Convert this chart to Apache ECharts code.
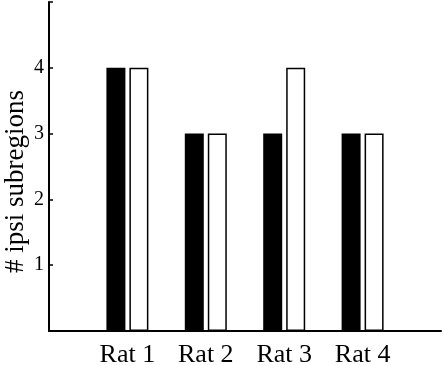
<!DOCTYPE html>
<html>
<head>
<meta charset="utf-8">
<script src="https://cdn.jsdelivr.net/npm/echarts@6/dist/echarts.min.js"></script>
<style>
  html, body { margin: 0; padding: 0; background: #fff; }
  #chart { width: 443px; height: 365px; }
</style>
</head>
<body>
<div id="chart"></div>
<script>
// values
const categories = ['Rat 1', 'Rat 2', 'Rat 3', 'Rat 4']
const blackValues = [4, 3, 3, 3]
const whiteValues = [4, 3, 4, 3]
const yTickLabels = ['1', '2', '3', '4']

// empty slot on each side so the rats sit at 1..4 on a 0..5 axis
const axisCats = [''].concat(categories, [''])
const pad = arr => [null].concat(arr, [null])

const font = '"Liberation Serif", "DejaVu Serif", serif'

const chart = echarts.init(document.getElementById('chart'), null, { renderer: 'canvas' })

chart.setOption({
  animation: false,
  grid: { left: 49, right: 2, top: 2, bottom: 34, containLabel: false, outerBoundsMode: 'none' },
  xAxis: {
    type: 'category',
    data: axisCats,
    boundaryGap: false,
    axisLine: { lineStyle: { color: '#000', width: 2 } },
    axisTick: { show: false },
    axisLabel: { color: '#000', fontFamily: font, fontSize: 26, margin: 11 },
    splitLine: { show: false }
  },
  yAxis: {
    type: 'value',
    min: 0,
    max: 5,
    interval: 1,
    name: '# ipsi subregions',
    nameLocation: 'middle',
    nameGap: 20,
    nameMoveOverlap: false,
    nameTextStyle: { color: '#000', fontFamily: font, fontSize: 27, padding: [0, 30, 0, 0] },
    axisLine: { show: true, lineStyle: { color: '#000', width: 2 } },
    axisTick: { show: true, inside: true, length: 4, lineStyle: { color: '#000', width: 1.5 } },
    axisLabel: {
      color: '#000',
      fontFamily: font,
      fontSize: 20,
      margin: 5,
      showMaxLabel: true,
      formatter: v => yTickLabels.indexOf(String(v)) >= 0 ? String(v) : ''
    },
    splitLine: { show: false }
  },
  series: [
    {
      type: 'bar',
      data: pad(blackValues),
      barWidth: 19,
      barGap: '21%',
      itemStyle: { color: '#000' }
    },
    {
      type: 'bar',
      data: pad(whiteValues),
      barWidth: 19,
      itemStyle: { color: '#fff', borderColor: '#000', borderWidth: 1.5 }
    }
  ]
})
</script>
</body>
</html>
